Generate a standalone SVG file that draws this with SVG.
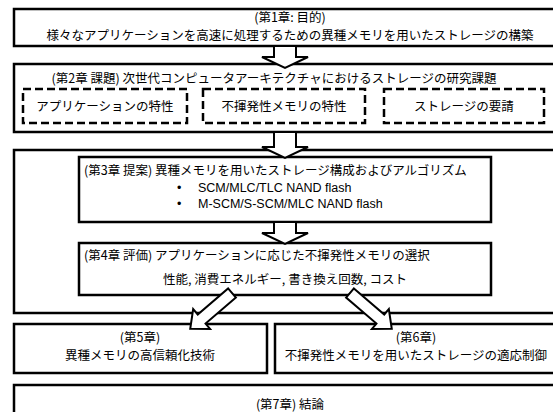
<svg xmlns="http://www.w3.org/2000/svg" width="553" height="412" viewBox="0 0 553 412">
<style>
.box{fill:#fff;stroke:#000;stroke-width:2.5}
.dash{fill:none;stroke:#000;stroke-width:2.5;stroke-dasharray:8 4}
.arr{fill:#fff;stroke:#000;stroke-width:2;stroke-linejoin:miter}
text{font-family:"Noto Sans CJK JP","Liberation Sans",sans-serif;font-size:12.5px;fill:#000}
.c{text-anchor:middle}
.lat{font-family:"Liberation Sans","Noto Sans CJK JP",sans-serif;font-size:12.5px}
</style>
<rect width="553" height="412" fill="#fff"/>
<g id="ch1">
<rect class="box" x="14" y="9" width="556" height="37"/>
<text class="c" x="290" y="22">(第1章: 目的)</text>
<text class="c" x="290" y="40">様々なアプリケーションを高速に処理するための異種メモリを用いたストレージの構築</text>
</g>
<g id="ch2">
<rect class="box" x="14" y="64" width="556" height="68"/>
<text class="c" x="274" y="83">(第2章 課題) 次世代コンピュータアーキテクチャにおけるストレージの研究課題</text>
<g id="ch2a"><rect class="dash" x="23" y="89" width="164" height="34"/><text class="c" x="105" y="111">アプリケーションの特性</text></g>
<g id="ch2b"><rect class="dash" x="203" y="89" width="162" height="34"/><text class="c" x="284" y="111">不揮発性メモリの特性</text></g>
<g id="ch2c"><rect class="dash" x="384" y="89" width="160" height="34"/><text class="c" x="464" y="111">ストレージの要請</text></g>
</g>
<g id="ch34">
<rect class="box" x="14" y="150" width="556" height="163"/>
</g>
<g id="ch3">
<rect class="box" x="79" y="157" width="412" height="65"/>
<text x="84" y="175">(第3章 提案) 異種メモリを用いたストレージ構成およびアルゴリズム</text>
<text class="lat" x="177" y="192">•</text>
<text class="lat" x="198" y="192">SCM/MLC/TLC NAND flash</text>
<text class="lat" x="177" y="208">•</text>
<text class="lat" x="198" y="208">M-SCM/S-SCM/MLC NAND flash</text>
</g>
<g id="ch4">
<rect class="box" x="79" y="243" width="412" height="52"/>
<text x="84" y="260">(第4章 評価) アプリケーションに応じた不揮発性メモリの選択</text>
<text class="c" x="285" y="284">性能, 消費エネルギー, 書き換え回数, コスト</text>
</g>
<g id="ch5">
<rect class="box" x="14" y="324" width="253" height="49"/>
<text class="c" x="140" y="342">(第5章)</text>
<text class="c" x="140" y="360">異種メモリの高信頼化技術</text>
</g>
<g id="ch6">
<rect class="box" x="275" y="324" width="295" height="49"/>
<text class="c" x="416" y="342">(第6章)</text>
<text class="c" x="416" y="360">不揮発性メモリを用いたストレージの適応制御</text>
</g>
<g id="ch7">
<rect class="box" x="14" y="385" width="556" height="40"/>
<text class="c" x="290" y="409">(第7章) 結論</text>
</g>
<g id="connectors">
<polygon class="arr" points="274,46 296,46 296,57 308,57 285,68 262,57 274,57"/>
<polygon class="arr" points="274,132 296,132 296,147 308,147 285,158 262,147 274,147"/>
<polygon class="arr" points="274,222 296,222 296,233 308,233 285,244 262,233 274,233"/>
<polygon class="arr" transform="translate(232,293) rotate(139.4)" points="0,-6 40,-6 40,-13 55,0 40,13 40,6 0,6"/>
<polygon class="arr" transform="translate(350,293) rotate(40.6)" points="0,-6 40,-6 40,-13 55,0 40,13 40,6 0,6"/>
</g>
</svg>
